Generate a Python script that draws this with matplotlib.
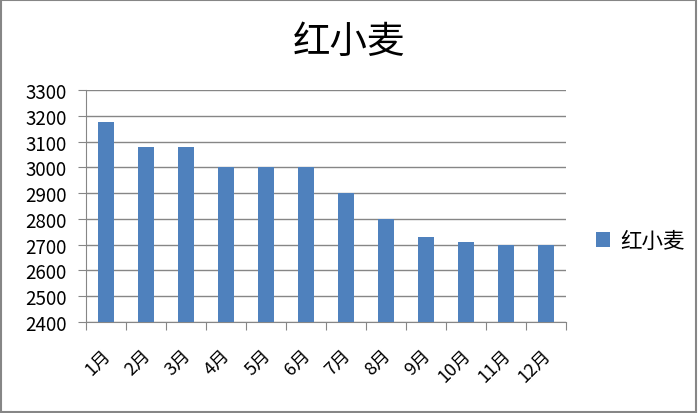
import matplotlib
matplotlib.use("Agg")
from matplotlib import pyplot as plt
from matplotlib.patches import Rectangle

plt.rcParams['font.family'] = ['Noto Sans CJK SC', 'DejaVu Sans']

# 数据
months = ["1月", "2月", "3月", "4月", "5月", "6月", "7月", "8月", "9月", "10月", "11月", "12月"]
prices = [3176, 3080, 3080, 3000, 3000, 3000, 2900, 2800, 2730, 2710, 2700, 2700]
yticks = list(range(2400, 3301, 100))

bar_color = "#4F81BD"
grid_color = "#868686"

fig = plt.figure(figsize=(6.98, 4.14), dpi=100)
ax = fig.add_axes([86 / 698, 1 - 323 / 414, 480 / 698, 232 / 414])

x = list(range(len(months)))
ax.bar(x, prices, width=0.4, color=bar_color, label="红小麦", zorder=3)

ax.set_ylim(2400, 3300)
ax.set_xlim(-0.5, len(months) - 0.5)
ax.set_yticks(yticks)
ax.set_yticklabels([str(v) for v in yticks], fontsize=13.5)
ax.yaxis.grid(True, color=grid_color, linewidth=1, zorder=0)

# 刻度在类别之间, 标签稍微偏左
ax.set_xticks([i - 0.5 for i in range(len(months) + 1)])
ax.set_xticklabels([])
ax.set_xticks([i - 0.12 for i in x], minor=True)
ax.set_xticklabels(months, minor=True, rotation=45, ha="right", va="top",
                   fontsize=13, rotation_mode="anchor")
ax.tick_params(axis="x", which="minor", length=0, pad=17)
ax.tick_params(axis="x", which="major", length=6, color=grid_color)
ax.tick_params(axis="y", length=6, color=grid_color, pad=8)

for side in ["top", "right"]:
    ax.spines[side].set_visible(False)
for side in ["left", "bottom"]:
    ax.spines[side].set_color(grid_color)

fig.text(0.5, 1 - 42 / 414, "红小麦", ha="center", va="center", fontsize=27)

fig.legend(loc="center left", bbox_to_anchor=(577 / 698, 1 - 242 / 414),
           frameon=False, fontsize=15.5, handlelength=0.65, handleheight=0.65,
           handletextpad=0.45)

# 外框
fig.patches.append(Rectangle((0.002, 0.003), 0.995, 0.994, transform=fig.transFigure,
                             fill=False, edgecolor=grid_color, linewidth=1.5))

fig.savefig("out.png", dpi=100)
